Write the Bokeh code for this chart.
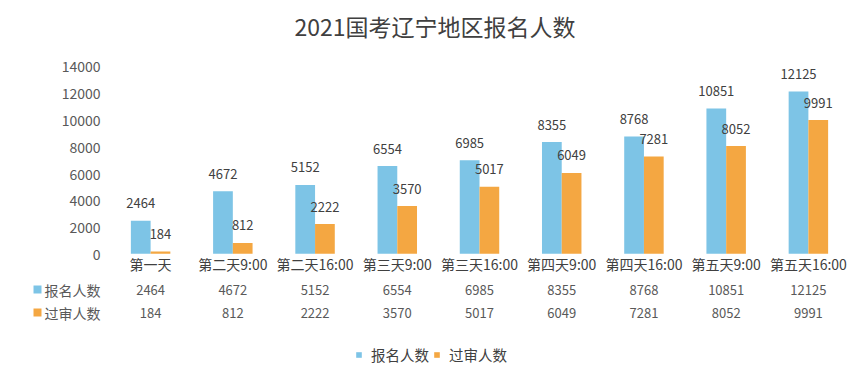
from bokeh.plotting import figure
from bokeh.models import (FactorRange, Range1d, FixedTicker, Legend, LegendItem,
                          ColumnDataSource, NumeralTickFormatter, LinearAxis)
from bokeh.transform import dodge
from bokeh.core.properties import value
from bokeh.embed import file_html
from bokeh.resources import INLINE

# ---- data ----
categories = ["第一天", "第二天9:00", "第二天16:00", "第三天9:00", "第三天16:00",
              "第四天9:00", "第四天16:00", "第五天9:00", "第五天16:00"]
registered = [2464, 4672, 5152, 6554, 6985, 8355, 8768, 10851, 12125]
approved = [184, 812, 2222, 3570, 5017, 6049, 7281, 8052, 9991]
series_names = ["报名人数", "过审人数"]
y_ticks = [0, 2000, 4000, 6000, 8000, 10000, 12000, 14000]
title_text = "2021国考辽宁地区报名人数"

# ---- layout ----
FONT = "Noto Sans CJK SC"
BLUE = "#7DC4E6"
ORANGE = "#F4A742"
W, H = 851, 365
frame_left, frame_right = 109, 849
frame_top, frame_bottom = 47, 365
zero_y, top_tick_y = 253, 65
upp = 14000 / (zero_y - top_tick_y)          # data units per pixel
y_end = (zero_y - frame_top) * upp
y_start = -(frame_bottom - zero_y) * upp
row1_px, row2_px = 36, 59                     # table rows below the zero line
row_ticks = [-round(row1_px * upp), -round(row2_px * upp)]

p = figure(width=W, height=H,
           x_range=FactorRange(*categories, range_padding=0),
           y_range=Range1d(y_start, y_end),
           output_backend="svg", toolbar_location=None,
           min_border_left=frame_left, min_border_right=W - frame_right,
           min_border_top=frame_top, min_border_bottom=0)

p.title.text = title_text
p.title.align = "left"
p.title.offset = 185
p.title.text_font = FONT
p.title.text_font_size = "23px"
p.title.text_font_style = "normal"
p.title.text_color = "#404040"
p.title.standoff = 12

p.outline_line_color = None
p.xgrid.visible = False
p.ygrid.visible = False
p.xaxis.visible = False

# y axis: value ticks plus the data-table row headers
ya = p.yaxis[0]
ya.ticker = FixedTicker(ticks=y_ticks + row_ticks)
ya.formatter = NumeralTickFormatter(format="0")
ya.major_label_overrides = {row_ticks[0]: series_names[0],
                            row_ticks[1]: series_names[1]}
ya.axis_line_color = None
ya.major_tick_line_color = None
ya.major_tick_out = 0
ya.major_tick_in = 0
ya.minor_tick_line_color = None
ya.major_label_text_font = FONT
ya.major_label_text_font_size = "14px"
ya.major_label_text_color = "#595959"
ya.major_label_standoff = 9

# coloured keys of the data-table rows, drawn as thick tick marks
key_b = LinearAxis(ticker=FixedTicker(ticks=[row_ticks[0]]),
                   major_label_overrides={row_ticks[0]: ""},
                   axis_line_color=None, minor_tick_line_color=None,
                   major_tick_line_color=BLUE, major_tick_line_width=8,
                   major_tick_out=8, major_tick_in=0, major_label_standoff=0,
                   major_label_text_font_size="1px")
p.add_layout(key_b, "left")
key_o = LinearAxis(ticker=FixedTicker(ticks=[row_ticks[1]]),
                   major_label_overrides={row_ticks[1]: ""},
                   axis_line_color=None, minor_tick_line_color=None,
                   major_tick_line_color=ORANGE, major_tick_line_width=8,
                   major_tick_out=0, major_tick_in=8, major_label_standoff=0,
                   major_label_text_font_size="1px")
p.add_layout(key_o, "left")

src = ColumnDataSource(dict(cat=categories, reg=registered, app=approved,
                            reg_t=[str(v) for v in registered],
                            app_t=[str(v) for v in approved]))

r1 = p.vbar(x=dodge("cat", -0.12, range=p.x_range), top="reg", width=0.24,
            source=src, fill_color=BLUE, line_color=None)
r2 = p.vbar(x=dodge("cat", 0.12, range=p.x_range), top="app", width=0.24,
            source=src, fill_color=ORANGE, line_color=None)

# data labels
p.text(x=dodge("cat", -0.12, range=p.x_range), y="reg", text="reg_t", source=src,
       y_offset=-17.5, text_align="center", text_baseline="middle",
       text_font=value(FONT), text_font_size="13px", text_color="#404040")
p.text(x=dodge("cat", 0.12, range=p.x_range), y="app", text="app_t", source=src,
       y_offset=-17.5, text_align="center", text_baseline="middle",
       text_font=value(FONT), text_font_size="13px", text_color="#404040")

# category labels
p.text(x="cat", y=0, text="cat", source=src, y_offset=10,
       text_align="center", text_baseline="middle",
       text_font=value(FONT), text_font_size="14px", text_color="#404040")

# data table rows
p.text(x="cat", y=0, text="reg_t", source=src, y_offset=row1_px,
       text_align="center", text_baseline="middle",
       text_font=value(FONT), text_font_size="13px", text_color="#595959")
p.text(x="cat", y=0, text="app_t", source=src, y_offset=row2_px,
       text_align="center", text_baseline="middle",
       text_font=value(FONT), text_font_size="13px", text_color="#595959")

# bottom legend
leg2 = Legend(items=[LegendItem(label=series_names[0], renderers=[r1]),
                     LegendItem(label=series_names[1], renderers=[r2])],
              location=(246, 0), orientation="horizontal",
              glyph_width=7, glyph_height=7, label_standoff=9, spacing=4,
              padding=0, margin=0, border_line_color=None,
              background_fill_alpha=0, label_height=20,
              label_text_font=FONT, label_text_font_size="14.5px",
              label_text_color="#404040")
p.add_layout(leg2)

open("out.html", "w").write(file_html(p, INLINE))
